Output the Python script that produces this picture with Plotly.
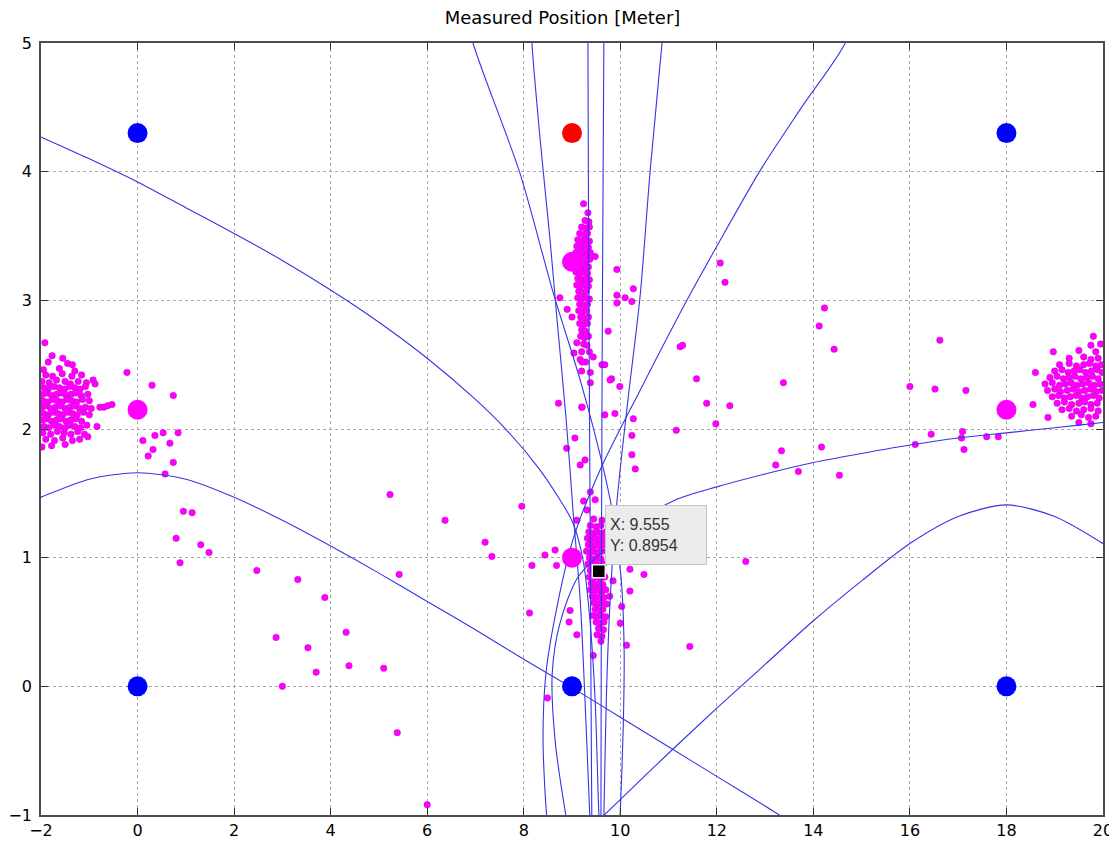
import plotly.graph_objects as go

# ---------------- data ----------------
x_ticks = [-2, 0, 2, 4, 6, 8, 10, 12, 14, 16, 18, 20]
y_ticks = [-1, 0, 1, 2, 3, 4, 5]

anchor_x = [0, 18, 0, 9, 18]
anchor_y = [4.3, 4.3, 0, 0, 0]
ref_x = [9]
ref_y = [4.3]
est_x = [9, 0, 18, 9]
est_y = [3.3, 2.15, 2.15, 1.0]
tip_x = [9.555]
tip_y = [0.8954]

# hyperbola branches (polylines)
a_x = [-2.2, -2, -1, 0, 1, 2, 3, 4, 5, 6, 7, 8, 9, 10, 11, 12, 13, 13.5]
a_y = [1.44, 1.47, 1.61, 1.66, 1.61, 1.47, 1.29, 1.09, 0.88, 0.66, 0.44, 0.21, -0.01, -0.24, -0.47, -0.70, -0.93, -1.05]
b_x = [9.5, 10, 11, 12, 13, 14, 15, 16, 17, 18, 19, 20, 20.2]
b_y = [-1.06, -0.88, -0.52, -0.17, 0.17, 0.51, 0.82, 1.11, 1.32, 1.41, 1.32, 1.11, 1.06]
c1_x = [-2.3, -2, -1, 0, 1, 2, 3, 4, 5, 6, 7, 7.65, 8.3, 8.75, 9.02, 9.23, 9.37, 9.48, 9.56, 9.58]
c1_y = [4.32, 4.27, 4.10, 3.92, 3.72, 3.52, 3.31, 3.08, 2.83, 2.55, 2.23, 1.99, 1.70, 1.45, 1.27, 0.98, 0.52, -0.11, -1.02, -1.1]
ca_x = [6.85, 6.95, 7.92, 8.61, 9.17, 9.62, 9.87, 10.02, 10.08, 10.06, 9.995, 9.98]
ca_y = [5.2, 5, 3.99, 3.06, 2.38, 1.74, 1.29, 0.83, 0.28, -0.34, -1.02, -1.1]
cb_x = [8.15, 8.17, 8.34, 8.545, 8.69, 8.88, 9.02, 9.17, 9.27, 9.37, 9.38]
cb_y = [5.2, 5, 4.25, 3.47, 2.85, 2.07, 1.37, 0.67, -0.11, -1.02, -1.1]
v1_x = [9.33, 9.33, 9.35, 9.38, 9.41, 9.42]
v1_y = [5.2, 5, 3, 1, -1, -1.1]
v2_x = [9.66, 9.66, 9.63, 9.61, 9.60, 9.60]
v2_y = [5.2, 5, 3, 1, -1, -1.1]
l3_x = [10.9, 10.865, 10.62, 10.41, 10.16, 9.93, 9.79, 9.71, 9.66, 9.65]
l3_y = [5.2, 5, 4.01, 3.03, 2.23, 1.43, 0.67, -0.11, -1.02, -1.1]
l4_x = [14.8, 14.66, 13.72, 12.9, 12.0, 11.38, 10.41, 9.58, 9.02, 8.69, 8.46, 8.40, 8.48, 8.52]
l4_y = [5.2, 5, 4.48, 4.01, 3.42, 3.0, 2.30, 1.68, 1.14, 0.62, 0.10, -0.42, -1.02, -1.1]
r_x = [20.2, 20, 19, 18, 17, 16, 15, 14, 13, 12, 11.15, 10.41, 9.79, 9.125, 8.75, 8.59, 8.65, 8.88, 8.92]
r_y = [2.06, 2.05, 2.01, 1.97, 1.93, 1.875, 1.81, 1.74, 1.65, 1.55, 1.45, 1.29, 1.10, 0.85, 0.49, 0.10, -0.42, -1.02, -1.1]

# measured positions (magenta dots)
left_pts = [
    (-1.85, 2.52), (-1.45, 2.51), (-1.95, 2.46), (-1.62, 2.47), (-1.3, 2.45),
    (-1.9, 2.42), (-1.76, 2.41), (-1.56, 2.43), (-1.36, 2.41), (-1.16, 2.42),
    (-1.98, 2.37), (-1.83, 2.36), (-1.68, 2.38), (-1.5, 2.37), (-1.39, 2.35), (-1.23, 2.37), (-1.06, 2.36), (-0.92, 2.38),
    (-1.94, 2.32), (-1.85, 2.31), (-1.73, 2.33), (-1.62, 2.32), (-1.51, 2.31), (-1.41, 2.33), (-1.3, 2.32), (-1.19, 2.31), (-1.08, 2.33),
    (-1.97, 2.27), (-1.88, 2.28), (-1.78, 2.26), (-1.68, 2.27), (-1.58, 2.28), (-1.48, 2.26), (-1.38, 2.27), (-1.28, 2.28), (-1.17, 2.26), (-1.03, 2.27),
    (-1.96, 2.22), (-1.86, 2.21), (-1.76, 2.23), (-1.66, 2.22), (-1.56, 2.21), (-1.46, 2.23), (-1.36, 2.22), (-1.26, 2.21), (-1.14, 2.23), (-1.0, 2.22),
    (-1.98, 2.17), (-1.9, 2.18), (-1.8, 2.16), (-1.7, 2.17), (-1.6, 2.18), (-1.5, 2.16), (-1.4, 2.17), (-1.3, 2.18), (-1.2, 2.16), (-1.08, 2.17), (-0.96, 2.16),
    (-1.95, 2.12), (-1.85, 2.11), (-1.75, 2.13), (-1.65, 2.12), (-1.55, 2.11), (-1.45, 2.13), (-1.35, 2.12), (-1.25, 2.11), (-1.12, 2.13), (-1.0, 2.11),
    (-1.97, 2.07), (-1.88, 2.08), (-1.78, 2.06), (-1.68, 2.07), (-1.58, 2.08), (-1.48, 2.06), (-1.38, 2.07), (-1.28, 2.08), (-1.16, 2.06),
    (-1.94, 2.02), (-1.84, 2.01), (-1.72, 2.03), (-1.62, 2.02), (-1.5, 2.01), (-1.4, 2.03), (-1.3, 2.02), (-1.18, 2.01), (-1.05, 2.03),
    (-1.96, 1.97), (-1.8, 1.96), (-1.66, 1.98), (-1.52, 1.97), (-1.38, 1.96), (-1.24, 1.98), (-1.1, 1.96),
    (-1.9, 1.92), (-1.72, 1.91), (-1.55, 1.93), (-1.35, 1.91), (-1.2, 1.92),
    (-1.78, 1.87), (-1.5, 1.88), (-1.98, 1.86),
    (-1.92, 2.67), (-1.77, 2.57), (-1.55, 2.55), (-1.35, 2.50),
]
right_pts = [
    (19.8, 2.72), (19.75, 2.65), (19.95, 2.66), (18.97, 2.60), (19.5, 2.61), (19.85, 2.60),
    (19.3, 2.55), (19.6, 2.56), (19.75, 2.54), (19.9, 2.55),
    (19.1, 2.50), (19.3, 2.51), (19.45, 2.49), (19.6, 2.50), (19.72, 2.51), (19.85, 2.49), (19.97, 2.50),
    (18.6, 2.44), (19.0, 2.45), (19.15, 2.46), (19.28, 2.44), (19.4, 2.45), (19.52, 2.46), (19.64, 2.44), (19.76, 2.45), (19.88, 2.46), (19.98, 2.44),
    (18.9, 2.40), (19.05, 2.41), (19.18, 2.39), (19.3, 2.40), (19.42, 2.41), (19.54, 2.39), (19.66, 2.40), (19.78, 2.41), (19.9, 2.39),
    (18.8, 2.35), (18.95, 2.36), (19.1, 2.34), (19.22, 2.35), (19.34, 2.36), (19.46, 2.34), (19.58, 2.35), (19.7, 2.36), (19.82, 2.34), (19.94, 2.35),
    (18.85, 2.30), (19.0, 2.31), (19.12, 2.29), (19.26, 2.30), (19.38, 2.31), (19.5, 2.29), (19.62, 2.30), (19.74, 2.31), (19.86, 2.29), (19.98, 2.30),
    (18.95, 2.25), (19.08, 2.26), (19.2, 2.24), (19.32, 2.25), (19.44, 2.26), (19.56, 2.24), (19.68, 2.25), (19.8, 2.26), (19.92, 2.24),
    (18.55, 2.19), (19.05, 2.20), (19.2, 2.21), (19.35, 2.19), (19.5, 2.20), (19.62, 2.21), (19.75, 2.19), (19.88, 2.20),
    (19.15, 2.15), (19.3, 2.16), (19.45, 2.14), (19.6, 2.15), (19.75, 2.16), (19.9, 2.14),
    (18.86, 2.09), (19.35, 2.10), (19.55, 2.11), (19.7, 2.09), (19.85, 2.10), (19.5, 2.05), (19.75, 2.04),
]
top_pts = [
    (9.24, 3.75), (9.33, 3.68), (9.27, 3.62), (9.35, 3.61),
    (9.2, 3.57), (9.28, 3.56), (9.36, 3.57), (9.16, 3.52), (9.24, 3.51), (9.32, 3.52),
    (9.12, 3.47), (9.2, 3.46), (9.28, 3.47), (9.36, 3.46), (9.1, 3.42), (9.18, 3.41), (9.26, 3.42), (9.34, 3.41),
    (9.08, 3.37), (9.16, 3.36), (9.24, 3.37), (9.32, 3.36), (9.38, 3.37), (9.06, 3.32), (9.14, 3.31), (9.22, 3.32), (9.3, 3.31), (9.37, 3.32),
    (9.1, 3.27), (9.18, 3.26), (9.26, 3.27), (9.34, 3.26), (9.08, 3.22), (9.16, 3.21), (9.24, 3.22), (9.32, 3.21),
    (9.12, 3.17), (9.2, 3.16), (9.28, 3.17), (9.36, 3.16), (9.1, 3.12), (9.18, 3.11), (9.26, 3.12), (9.34, 3.11),
    (9.14, 3.07), (9.22, 3.06), (9.3, 3.07), (9.12, 3.02), (9.2, 3.01), (9.28, 3.02), (9.36, 3.01),
    (9.16, 2.97), (9.24, 2.96), (9.32, 2.97), (9.14, 2.92), (9.22, 2.91), (9.3, 2.92),
    (9.18, 2.87), (9.26, 2.86), (9.34, 2.87), (9.16, 2.82), (9.24, 2.81), (9.32, 2.82),
    (9.2, 2.77), (9.28, 2.76), (9.18, 2.72), (9.26, 2.71), (9.34, 2.72),
    (9.24, 2.66), (9.31, 2.65), (9.2, 2.60), (9.36, 2.60), (9.28, 2.52), (9.2, 2.45), (9.38, 2.44),
]
low_pts = [
    (9.45, 1.30), (9.62, 1.29), (9.38, 1.25), (9.5, 1.24), (9.6, 1.25),
    (9.35, 1.20), (9.44, 1.19), (9.52, 1.20), (9.6, 1.19), (9.7, 1.20),
    (9.32, 1.15), (9.4, 1.14), (9.48, 1.15), (9.56, 1.14), (9.64, 1.15),
    (9.34, 1.10), (9.42, 1.09), (9.5, 1.10), (9.58, 1.09), (9.66, 1.10),
    (9.3, 1.05), (9.38, 1.04), (9.46, 1.05), (9.54, 1.04), (9.62, 1.05),
    (9.36, 1.00), (9.44, 0.99), (9.52, 1.00), (9.6, 0.99),
    (9.33, 0.95), (9.41, 0.94), (9.49, 0.95), (9.57, 0.94), (9.65, 0.95),
    (9.38, 0.90), (9.46, 0.89), (9.62, 0.90),
    (9.36, 0.85), (9.44, 0.84), (9.52, 0.85), (9.6, 0.84), (9.68, 0.85),
    (9.4, 0.80), (9.48, 0.79), (9.56, 0.80), (9.64, 0.79),
    (9.38, 0.75), (9.46, 0.74), (9.54, 0.75), (9.62, 0.74), (9.7, 0.75),
    (9.42, 0.70), (9.5, 0.69), (9.58, 0.70), (9.66, 0.69),
    (9.45, 0.65), (9.53, 0.64), (9.61, 0.65), (9.72, 0.64),
    (9.48, 0.60), (9.56, 0.59), (9.64, 0.60), (9.44, 0.55), (9.52, 0.54), (9.6, 0.55), (9.7, 0.54),
    (9.5, 0.50), (9.58, 0.49), (9.66, 0.50), (9.55, 0.45), (9.65, 0.44), (9.52, 0.40), (9.62, 0.39), (9.6, 0.35),
]
misc_pts = [
    (-0.22, 2.44), (0.30, 2.34), (0.74, 2.26), (-0.88, 2.35), (-0.78, 2.17), (-0.70, 2.17), (-0.62, 2.18),
    (-0.53, 2.19), (-0.84, 2.02), (-1.03, 1.94), (0.11, 1.91), (0.36, 1.95), (0.53, 1.97), (0.84, 1.97),
    (0.67, 1.89), (0.32, 1.84), (0.22, 1.79), (0.74, 1.74), (0.57, 1.65), (0.95, 1.36), (1.13, 1.35),
    (0.80, 1.15), (0.88, 0.96), (1.31, 1.10), (1.48, 1.04),
    (2.47, 0.90), (3.32, 0.83), (3.88, 0.69), (4.32, 0.42), (2.87, 0.38), (3.53, 0.30), (3.70, 0.11),
    (4.38, 0.16), (5.10, 0.14), (3.00, 0.00), (5.38, -0.36), (6.00, -0.92), (5.23, 1.49), (5.42, 0.87),
    (6.37, 1.29), (7.20, 1.12), (7.34, 1.01), (7.96, 1.40), (8.17, 0.94), (8.44, 1.02), (8.65, 1.06),
    (8.68, 0.94), (8.12, 0.57), (8.96, 0.59), (8.94, 0.50), (9.10, 0.40), (8.49, -0.09), (9.44, 0.24),
    (10.20, 0.91), (10.49, 0.87), (10.20, 0.74), (11.44, 0.31), (10.13, 0.32), (10.03, 0.62), (10.00, 0.49),
    (9.80, 1.15), (9.75, 0.98), (9.85, 0.82), (9.78, 0.70),
    (8.72, 2.20), (9.06, 1.93), (8.89, 1.85), (9.17, 1.72), (9.27, 1.76), (9.20, 2.17), (9.38, 2.36),
    (9.38, 1.51), (9.48, 1.45), (9.24, 1.44), (9.31, 1.37), (9.10, 1.29),
    (9.75, 2.76), (9.68, 2.50), (9.82, 2.39), (9.99, 2.33), (9.89, 2.12), (10.27, 2.08), (10.24, 1.95),
    (10.24, 1.80), (10.31, 1.69), (9.62, 2.50), (9.68, 2.11), (9.79, 2.38), (9.21, 2.17), (9.44, 2.56),
    (9.17, 2.54), (9.10, 2.67), (9.04, 2.59), (8.75, 3.02), (8.90, 2.93), (9.00, 2.87), (9.21, 2.52),
    (9.93, 3.24), (10.27, 3.09), (9.93, 3.04), (9.93, 2.98), (10.10, 3.02), (10.24, 2.99), (9.48, 3.34),
    (12.07, 3.29), (12.17, 3.14), (11.24, 2.64), (11.29, 2.65), (11.58, 2.39), (11.79, 2.20), (12.27, 2.18),
    (11.98, 2.04), (11.16, 1.99), (13.38, 2.36), (14.23, 2.94), (14.12, 2.80), (14.43, 2.62), (13.34, 1.83),
    (13.22, 1.72), (13.69, 1.67), (14.17, 1.86), (14.54, 1.64), (16.00, 2.33), (16.52, 2.31), (17.16, 2.30),
    (16.62, 2.69), (16.44, 1.96), (16.11, 1.88), (17.09, 1.98), (17.07, 1.93), (17.12, 1.84), (17.59, 1.94),
    (17.83, 1.94), (12.60, 0.97),
]

# ---------------- figure ----------------
fig = go.Figure()

pts = left_pts + right_pts + top_pts + low_pts + misc_pts
fig.add_trace(go.Scatter(
    x=[p[0] for p in pts], y=[p[1] for p in pts], mode="markers",
    marker=dict(size=6.5, color="#ff00ff", line=dict(width=0.5, color="#c800c8")),
    showlegend=False, hoverinfo="skip"))

line_style = dict(color="#3535e6", width=1.1, shape="spline", smoothing=0.8)
for cx, cy in [(a_x, a_y), (b_x, b_y), (c1_x, c1_y), (ca_x, ca_y), (cb_x, cb_y),
               (v1_x, v1_y), (v2_x, v2_y), (l3_x, l3_y), (l4_x, l4_y), (r_x, r_y)]:
    fig.add_trace(go.Scatter(x=cx, y=cy, mode="lines", line=line_style,
                             showlegend=False, hoverinfo="skip"))

fig.add_trace(go.Scatter(x=est_x, y=est_y, mode="markers",
                         marker=dict(size=20, color="#ff00ff"), showlegend=False))
fig.add_trace(go.Scatter(x=anchor_x, y=anchor_y, mode="markers",
                         marker=dict(size=20, color="#0000ff"), showlegend=False))
fig.add_trace(go.Scatter(x=ref_x, y=ref_y, mode="markers",
                         marker=dict(size=20, color="#ff0000"), showlegend=False))
fig.add_trace(go.Scatter(x=tip_x, y=tip_y, mode="markers",
                         marker=dict(size=13, symbol="square", color="#000000",
                                     line=dict(width=1.5, color="#f0f0f0")),
                         showlegend=False))

fig.add_annotation(
    x=9.68, y=1.41, xref="x", yref="y", xanchor="left", yanchor="top",
    text=f"X: {tip_x[0]}<br>Y: {tip_y[0]}", showarrow=False, align="left",
    font=dict(family="Liberation Sans, Arial, sans-serif", size=16, color="#333333"),
    bgcolor="#ebebeb", bordercolor="#c4c4c4", borderwidth=1, borderpad=4,
    width=92, height=50)

axis_common = dict(
    showgrid=True, gridcolor="#a8a8a8", griddash="dot", gridwidth=1,
    zeroline=False, showline=True, linecolor="#4d4d4d", linewidth=1.5,
    mirror="allticks", ticks="inside", ticklen=7, tickcolor="#333333",
    automargin=False,
    tickfont=dict(family="DejaVu Sans, Arial, sans-serif", size=16, color="#000000"),
)
fig.update_xaxes(range=[-2, 20], tickvals=x_ticks, **axis_common)
fig.update_yaxes(range=[-1, 5], tickvals=y_ticks, ticklabelstandoff=4, **axis_common)

# the page body has an 8 px default margin; size the figure so the axes land
# where the reference has them (plot area 41..1103 x 43..815 on the page)
fig.update_layout(
    width=1109, height=837,
    margin=dict(l=33, r=14, t=35, b=30, autoexpand=False),
    paper_bgcolor="white", plot_bgcolor="white",
    title=dict(text="Measured Position [Meter]", x=0.5, xanchor="center",
               y=1 - 10 / 837, yanchor="middle",
               font=dict(family="DejaVu Sans, Arial, sans-serif", size=18, color="#000000")),
    showlegend=False,
)

fig.write_html("out.html")
